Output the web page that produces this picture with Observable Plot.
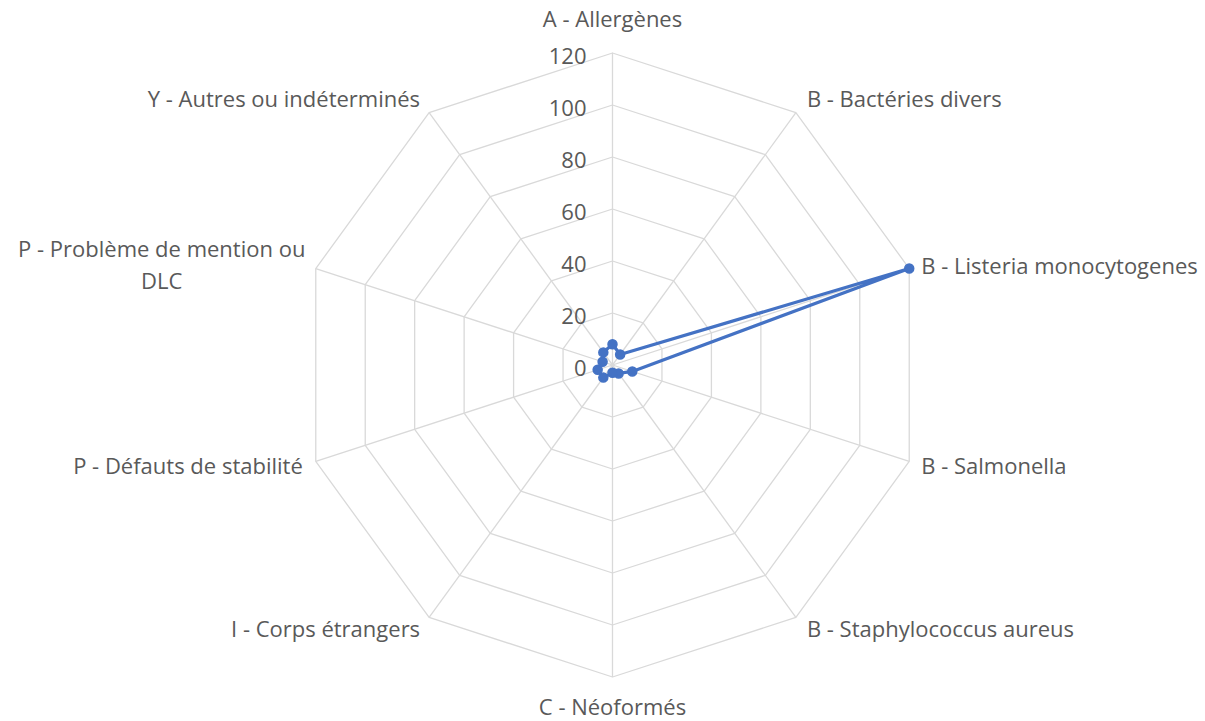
<!DOCTYPE html>
<html>
<head>
<meta charset="utf-8">
<script src="https://cdn.jsdelivr.net/npm/d3@7"></script>
<script src="https://cdn.jsdelivr.net/npm/@observablehq/plot@0.6"></script>
<style>
  html, body { margin: 0; padding: 0; background: #fff; }
  #chart { width: 1205px; height: 721px; }
</style>
</head>
<body>
<div id="chart"></div>
<script>
const categories = [
  "A - Allergènes",
  "B - Bactéries divers",
  "B - Listeria monocytogenes",
  "B - Salmonella",
  "B - Staphylococcus aureus",
  "C - Néoformés",
  "I - Corps étrangers",
  "P - Défauts de stabilité",
  "P - Problème de mention ou\nDLC",
  "Y - Autres ou indéterminés"
];
const values = [8, 5, 120, 8, 4, 3, 6, 6, 4, 6];
const tickValues = [0, 20, 40, 60, 80, 100, 120];
const tickLabels = ["0", "20", "40", "60", "80", "100", "120"];

const W = 1205, H = 721;
const cx = 612, cy = 364.5, pxPerUnit = 2.6;
const n = categories.length;
const maxV = d3.max(tickValues);
const ang = i => i * 2 * Math.PI / n;
const px = (v, i) => v * Math.sin(ang(i));
const py = (v, i) => v * Math.cos(ang(i));

// grid rings
const rings = [];
for (const t of tickValues.slice(1)) {
  for (let i = 0; i <= n; i++) rings.push({t, x: px(t, i % n), y: py(t, i % n)});
}
// spokes
const spokes = categories.map((c, i) => ({x1: 0, y1: 0, x2: px(maxV, i), y2: py(maxV, i)}));
// series
const pts = values.map((v, i) => ({x: px(v, i), y: py(v, i), v, c: categories[i]}));
const loop = [...pts, pts[0]];

// label layout offsets (pixels)
const labelLayout = [
  {dx: 0, dy: -36, anchor: "middle"},
  {dx: 11, dy: -16, anchor: "start"},
  {dx: 12, dy: -5, anchor: "start"},
  {dx: 12, dy: 2, anchor: "start"},
  {dx: 11, dy: 9, anchor: "start"},
  {dx: 0, dy: 28, anchor: "middle"},
  {dx: -9, dy: 9, anchor: "end"},
  {dx: -13, dy: 2, anchor: "end"},
  {dx: -154, dy: -6, anchor: "middle"},
  {dx: -9, dy: -16, anchor: "end"}
];

const labelMarks = categories.map((c, i) => Plot.text([c], {
  x: () => px(maxV, i), y: () => py(maxV, i), text: d => d,
  dx: labelLayout[i].dx, dy: labelLayout[i].dy, textAnchor: labelLayout[i].anchor,
  lineAnchor: "middle", lineHeight: 1.45,
  fill: "#595959", fontSize: 22
}));

const chart = Plot.plot({
  width: W, height: H,
  margin: 0,
  x: {domain: [-cx / pxPerUnit, (W - cx) / pxPerUnit], axis: null},
  y: {domain: [-(H - cy) / pxPerUnit, cy / pxPerUnit], axis: null},
  style: {fontFamily: "'Open Sans', sans-serif", background: "#fff"},
  marks: [
    Plot.line(rings, {x: "x", y: "y", z: "t", stroke: "#d9d9d9", strokeWidth: 1.3}),
    Plot.link(spokes, {x1: "x1", y1: "y1", x2: "x2", y2: "y2", stroke: "#d9d9d9", strokeWidth: 1.3}),
    Plot.text(tickValues, {x: 0, y: d => d, text: (d, i) => tickLabels[i], textAnchor: "end", lineAnchor: "middle", dx: -26, dy: 4, fill: "#595959", fontSize: 22}),
    Plot.line(loop, {x: "x", y: "y", stroke: "#4472C4", strokeWidth: 3.2, curve: "linear"}),
    Plot.dot(pts, {x: "x", y: "y", r: 4.5, fill: "#4472C4", stroke: "#4472C4", title: d => `${d.c}: ${d.v}`}),
    ...labelMarks
  ]
});
document.getElementById("chart").appendChild(chart);
</script>
</body>
</html>
